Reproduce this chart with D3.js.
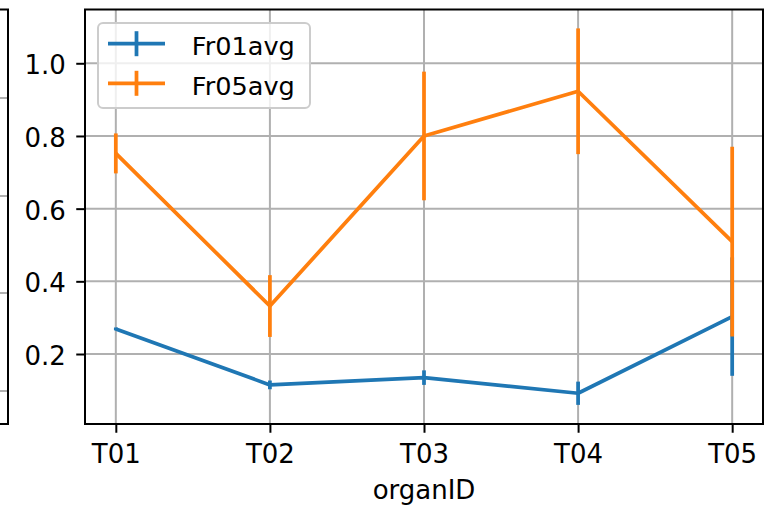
<!DOCTYPE html>
<html><head><meta charset="utf-8">
<script src="https://cdn.jsdelivr.net/npm/d3@7"></script>
<style>body{margin:0;background:#fff}svg{display:block;font-family:"DejaVu Sans",sans-serif}</style>
</head><body><svg id="c" width="765" height="505"></svg>
<script>
const categories = ["T01","T02","T03","T04","T05"];
const fr01 = [0.269, 0.115, 0.135, 0.092, 0.303];
const fr01Err = [0.004, 0.012, 0.020, 0.032, 0.163];
const fr05 = [0.752, 0.332, 0.800, 0.923, 0.509];
const fr05Err = [0.055, 0.085, 0.177, 0.173, 0.261];
const yTicks = [0.2, 0.4, 0.6, 0.8, 1.0];
const seriesNames = ["Fr01avg", "Fr05avg"];
const colors = ["#1f77b4", "#ff7f0e"];

const FS = 26;
const svg = d3.select("#c");
const L = 85, R = 763, T = 9.5, B = 424;
const x = d3.scaleLinear().domain([-0.2, 4.2]).range([L, R]);
const y = d3.scaleLinear().domain([0.0074, 1.148]).range([B, T]);

// partial neighbouring subplot at left edge
const ghost = svg.append("g");
[98, 196, 293, 391].forEach(gy => ghost.append("line").attr("x1", -10).attr("x2", 8).attr("y1", gy).attr("y2", gy).attr("stroke", "#b0b0b0").attr("stroke-width", 2));
ghost.append("rect").attr("x", -20).attr("y", T).attr("width", 28).attr("height", B - T).attr("fill", "none").attr("stroke", "#000").attr("stroke-width", 2);
ghost.append("text").attr("x", -23).attr("y", 463).attr("text-anchor", "middle").attr("font-size", FS).text("T05");

// grid
const g = svg.append("g");
g.selectAll(".gx").data(categories).join("line")
  .attr("x1", (d,i) => x(i)).attr("x2", (d,i) => x(i)).attr("y1", T).attr("y2", B)
  .attr("stroke", "#b0b0b0").attr("stroke-width", 2);
g.selectAll(".gy").data(yTicks).join("line")
  .attr("x1", L).attr("x2", R).attr("y1", d => y(d)).attr("y2", d => y(d))
  .attr("stroke", "#b0b0b0").attr("stroke-width", 2);

// series
const line = d3.line().x((d,i) => x(i)).y(d => y(d));
function drawSeries(vals, errs, color) {
  const s = svg.append("g");
  s.append("path").datum(vals).attr("d", line).attr("fill", "none").attr("stroke", color).attr("stroke-width", 3.75).attr("stroke-linejoin", "round");
  s.selectAll("line.err").data(vals).join("line")
    .attr("x1", (d,i) => x(i)).attr("x2", (d,i) => x(i))
    .attr("y1", (d,i) => y(d - errs[i])).attr("y2", (d,i) => y(d + errs[i]))
    .attr("stroke", color).attr("stroke-width", 3.75);
}
drawSeries(fr01, fr01Err, colors[0]);
drawSeries(fr05, fr05Err, colors[1]);

// axes
const xAxis = d3.axisBottom(x).tickValues(d3.range(categories.length)).tickFormat(i => categories[i]).tickSize(8.75).tickPadding(11.75);
const yAxis = d3.axisLeft(y).tickValues(yTicks).tickFormat(d3.format(".1f")).tickSize(8.75).tickPadding(10.5);
const gx = svg.append("g").attr("transform", `translate(0,${B})`).call(xAxis);
const gy = svg.append("g").attr("transform", `translate(${L},0)`).call(yAxis);
[gx, gy].forEach(a => {
  a.select(".domain").remove();
  a.selectAll(".tick line").attr("stroke", "#000").attr("stroke-width", 2);
  a.selectAll(".tick text").attr("font-size", FS).attr("fill", "#000").attr("font-family", "DejaVu Sans");
});
gy.selectAll(".tick text").attr("dy", "0.41em");
svg.append("rect").attr("x", L).attr("y", T).attr("width", R - L).attr("height", B - T).attr("fill", "none").attr("stroke", "#000").attr("stroke-width", 2);

svg.append("text").attr("x", (L + R) / 2).attr("y", 499).attr("text-anchor", "middle").attr("font-size", FS).text("organID");

// legend
const lg = svg.append("g");
lg.append("rect").attr("x", 98).attr("y", 23).attr("width", 212).attr("height", 85).attr("rx", 5)
  .attr("fill", "#fff").attr("fill-opacity", 0.8).attr("stroke", "#cccccc").attr("stroke-width", 2);
seriesNames.forEach((n, i) => {
  const cy = 43.7 + i * 39.6;
  lg.append("line").attr("x1", 108).attr("x2", 165).attr("y1", cy).attr("y2", cy).attr("stroke", colors[i]).attr("stroke-width", 3.75);
  lg.append("line").attr("x1", 136.5).attr("x2", 136.5).attr("y1", cy - 12.5).attr("y2", cy + 12.5).attr("stroke", colors[i]).attr("stroke-width", 3.75);
  lg.append("text").attr("x", 191.8).attr("y", cy + 11.3).attr("font-size", 25.6).text(n);
});
</script></body></html>
